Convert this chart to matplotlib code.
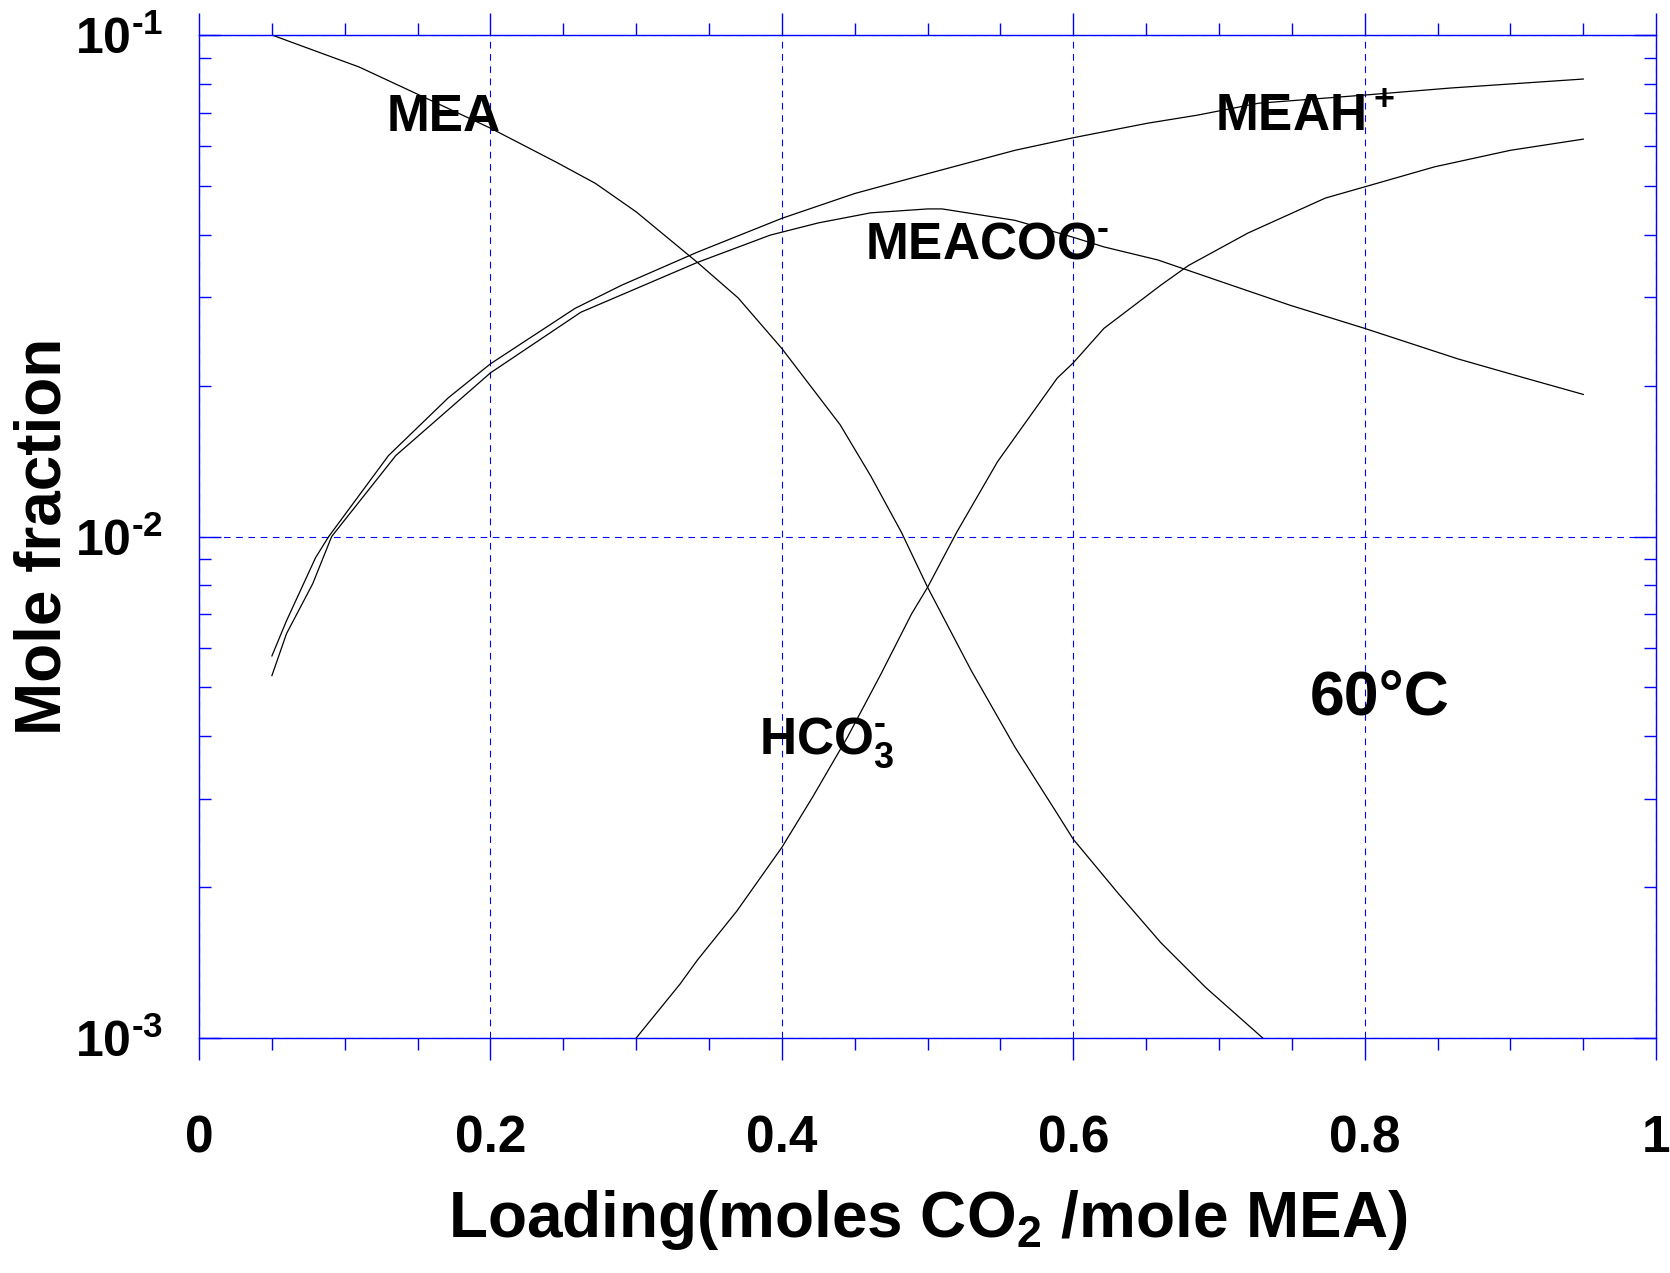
import numpy as np
import matplotlib
matplotlib.use("Agg")
import matplotlib.pyplot as plt
from matplotlib.ticker import FixedLocator, FixedFormatter, LogLocator, NullFormatter, MultipleLocator

plt.rcParams["font.family"] = "Liberation Sans"
plt.rcParams["font.weight"] = "bold"
plt.rcParams["mathtext.fontset"] = "custom"
for k in ("rm", "it", "bf", "sf", "cal"):
    plt.rcParams["mathtext." + k] = "Liberation Sans:bold"

# Speciation of MEA at 60 C
mea_x = [0.05, 0.11, 0.20, 0.245, 0.272, 0.30, 0.342, 0.37, 0.40, 0.44, 0.461, 0.482,
         0.50, 0.53, 0.56, 0.589, 0.60, 0.631, 0.66, 0.691, 0.73]
mea_y = [0.100, 0.0863, 0.0652, 0.0558, 0.0506, 0.0444, 0.0352, 0.0299, 0.0237, 0.0167,
         0.0132, 0.0102, 0.00792, 0.0054, 0.0038, 0.0028, 0.00249, 0.00194, 0.00155,
         0.00126, 0.0010]

hco3_x = [0.30, 0.33, 0.342, 0.369, 0.40, 0.421, 0.445, 0.468, 0.489, 0.50, 0.52, 0.548,
          0.589, 0.60, 0.621, 0.66, 0.679, 0.72, 0.773, 0.80, 0.848, 0.90, 0.95]
hco3_y = [0.0010, 0.00128, 0.00143, 0.00179, 0.0024, 0.00302, 0.00398, 0.00532, 0.00701,
          0.00792, 0.0102, 0.0141, 0.0207, 0.0222, 0.026, 0.0317, 0.0347, 0.0403, 0.0473,
          0.0498, 0.0546, 0.0589, 0.0620]

meah_x = [0.05, 0.06, 0.08, 0.089, 0.13, 0.171, 0.20, 0.258, 0.29, 0.342, 0.40, 0.45,
          0.50, 0.56, 0.60, 0.651, 0.685, 0.727, 0.80, 0.859, 0.95]
meah_y = [0.00578, 0.00679, 0.00908, 0.0100, 0.0145, 0.0189, 0.0221, 0.0285, 0.0317,
          0.0369, 0.0431, 0.0483, 0.0529, 0.0589, 0.0624, 0.0667, 0.0692, 0.0731, 0.0759,
          0.0784, 0.0817]

meacoo_x = [0.05, 0.06, 0.078, 0.091, 0.135, 0.20, 0.262, 0.342, 0.392, 0.425, 0.461,
            0.50, 0.51, 0.56, 0.60, 0.621, 0.658, 0.699, 0.749, 0.80, 0.864, 0.91, 0.95]
meacoo_y = [0.00528, 0.0064, 0.00805, 0.0100, 0.0145, 0.0212, 0.028, 0.0352, 0.0399,
            0.0422, 0.0442, 0.0450, 0.0450, 0.0427, 0.0395, 0.0378, 0.0356, 0.0324,
            0.0289, 0.026, 0.0226, 0.0207, 0.0192]

xticks = [0, 0.2, 0.4, 0.6, 0.8, 1.0]
xticklabels = ["0", "0.2", "0.4", "0.6", "0.8", "1"]
yticks = [1e-3, 1e-2, 1e-1]
# U+2010 hyphen keeps the short dash of the original instead of a math minus
yticklabels = ["$10^{\u20103}$", "$10^{\u20102}$", "$10^{\u20101}$"]

fig = plt.figure(figsize=(16.7, 12.73), dpi=100)
ax = fig.add_axes([0.1192, 0.1846, 0.8725, 0.7879])

for xs, ys in [(mea_x, mea_y), (hco3_x, hco3_y), (meah_x, meah_y), (meacoo_x, meacoo_y)]:
    ax.plot(xs, ys, color="k", lw=0.9)

ax.set_yscale("log")
ax.set_xlim(0, 1)
ax.set_ylim(1e-3, 1e-1)

ax.xaxis.set_major_locator(FixedLocator(xticks))
ax.xaxis.set_major_formatter(FixedFormatter(xticklabels))
ax.xaxis.set_minor_locator(MultipleLocator(0.05))
ax.yaxis.set_major_locator(FixedLocator(yticks))
ax.yaxis.set_major_formatter(FixedFormatter(yticklabels))
ax.yaxis.set_minor_locator(LogLocator(base=10, subs=np.arange(2, 10)))
ax.yaxis.set_minor_formatter(NullFormatter())

ax.grid(True, which="major", color="blue", lw=0.8, linestyle=(0, (6, 5)))

for s in ax.spines.values():
    s.set_color("blue")
    s.set_linewidth(1.0)

ax.tick_params(axis="x", which="both", direction="out", top=True, bottom=True, color="blue", width=1.0)
ax.tick_params(axis="x", which="major", length=16, pad=39, labelsize=37)
ax.tick_params(axis="x", which="minor", length=8.5)
ax.tick_params(axis="y", which="both", direction="in", left=True, right=True, color="blue", width=1.0)
ax.tick_params(axis="y", which="major", length=16, pad=26, labelsize=36)
ax.tick_params(axis="y", which="minor", length=8.5)

ax.set_xlabel("Loading(moles CO$_2$ /mole MEA)", fontsize=46, fontweight="bold", labelpad=18)
ax.set_ylabel("Mole fraction", fontsize=46, fontweight="bold")
ax.yaxis.set_label_coords(-0.086, 0.5)

ax.text(0.129, 0.0645, "MEA", fontsize=37, fontweight="bold")
ax.text(0.697, 0.0645, "MEAH$^+$", fontsize=37, fontweight="bold")
ax.text(0.457, 0.0359, "MEACOO$^{\u2010}$", fontsize=37, fontweight="bold")
ax.text(0.384, 0.00369, "HCO$_3^{\u2010}$", fontsize=37, fontweight="bold")
ax.text(0.762, 0.00441, "60°C", fontsize=45, fontweight="bold")

fig.savefig("out.png", dpi=100)
